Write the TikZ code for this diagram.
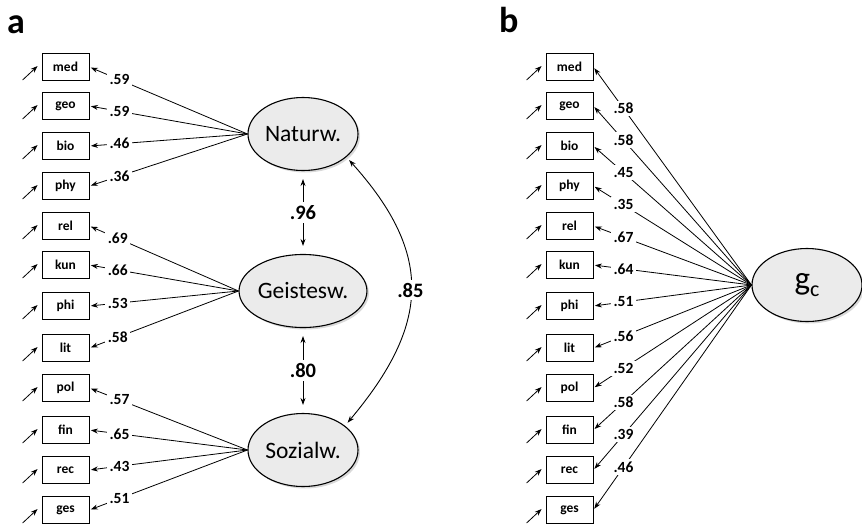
\documentclass[tikz,border=0pt]{standalone}
\usepackage{fontspec}
\setmainfont{Carlito}
\usetikzlibrary{arrows.meta,shapes.geometric,shadows}

\tikzset{
  manif/.style={draw, line width=0.8pt, minimum width=47pt, minimum height=27pt, inner sep=0pt,
    font=\fontsize{13.5}{15}\selectfont\bfseries},
  latent/.style={ellipse, draw, line width=1.1pt, fill=black!8, minimum width=110pt,
    minimum height=73pt, inner sep=0pt, font=\fontsize{23.5}{25}\selectfont,
    drop shadow={shadow xshift=2pt, shadow yshift=-2pt, opacity=0.3}},
  tip/.style={-{Stealth[length=7pt,width=5pt]}},
  load/.style={tip, line width=0.8pt, shorten >=1.5pt},
  err/.style={tip, line width=0.8pt},
  corr/.style={{Stealth[length=7pt,width=5pt]}-{Stealth[length=7pt,width=5pt]}, line width=0.9pt},
  lbl/.style={fill=white, inner sep=2.5pt, font=\fontsize{15.5}{17}\selectfont\bfseries},
  biglbl/.style={fill=white, inner sep=3pt, font=\fontsize{20.5}{22}\selectfont\bfseries},
  panel/.style={anchor=base west, inner sep=0pt, font=\fontsize{36}{38}\selectfont\bfseries}
}
\newcommand{\errarrow}[1]{\draw[err] ([shift={(-19,13)}]#1.west) -- ([shift={(-4,-1)}]#1.west);}

\begin{document}
\begin{tikzpicture}[x=1pt, y=-1pt]
    \useasboundingbox (0,0) rectangle (862,525);

    % panel a
    \node[panel] (tita) at (7,33) {a};
    \node[manif] (a-med) at (65.5,67) {med};
    \node[manif] (a-geo) at (65.5,106) {geo};
    \node[manif] (a-bio) at (65.5,146) {bio};
    \node[manif] (a-phy) at (65.5,186) {phy};
    \node[manif] (a-rel) at (65.5,226) {rel};
    \node[manif] (a-kun) at (65.5,265) {kun};
    \node[manif] (a-phi) at (65.5,306) {phi};
    \node[manif] (a-lit) at (65.5,348) {lit};
    \node[manif] (a-pol) at (65.5,388) {pol};
    \node[manif] (a-fin) at (65.5,430) {fin};
    \node[manif] (a-rec) at (65.5,470) {rec};
    \node[manif] (a-ges) at (65.5,510) {ges};

    \node[latent] (natw) at (303,134) {Naturw.};
    \node[latent] (geistw) at (303,291) {Geistesw.};
    \node[latent] (sozw) at (303,450) {Sozialw.};

    \errarrow{a-med} \errarrow{a-geo} \errarrow{a-bio} \errarrow{a-phy}
    \errarrow{a-rel} \errarrow{a-kun} \errarrow{a-phi} \errarrow{a-lit}
    \errarrow{a-pol} \errarrow{a-fin} \errarrow{a-rec} \errarrow{a-ges}

    \draw[load] (natw.west) -- node[lbl, pos=0.81] {.59} (a-med.east);
    \draw[load] (natw.west) -- node[lbl, pos=0.81] {.59} (a-geo.east);
    \draw[load] (natw.west) -- node[lbl, pos=0.81] {.46} (a-bio.east);
    \draw[load] (natw.west) -- node[lbl, pos=0.81] {.36} (a-phy.east);
    \draw[load] (geistw.west) -- node[lbl, pos=0.81] {.69} (a-rel.east);
    \draw[load] (geistw.west) -- node[lbl, pos=0.81] {.66} (a-kun.east);
    \draw[load] (geistw.west) -- node[lbl, pos=0.81] {.53} (a-phi.east);
    \draw[load] (geistw.west) -- node[lbl, pos=0.81] {.58} (a-lit.east);
    \draw[load] (sozw.west) -- node[lbl, pos=0.81] {.57} (a-pol.east);
    \draw[load] (sozw.west) -- node[lbl, pos=0.81] {.65} (a-fin.east);
    \draw[load] (sozw.west) -- node[lbl, pos=0.81] {.43} (a-rec.east);
    \draw[load] (sozw.west) -- node[lbl, pos=0.81] {.51} (a-ges.east);

    \draw[corr, shorten <=8pt, shorten >=8pt] (natw.south) -- node[biglbl] {.96} (geistw.north);
    \draw[corr, shorten <=8pt, shorten >=8pt] (geistw.south) -- node[biglbl] {.80} (sozw.north);
    \draw[corr, shorten <=4pt, shorten >=4pt] (natw.-28) to[out=-48, in=50, looseness=1.25] node[biglbl] {.85} (sozw.30);

    % panel b
    \node[panel] (titb) at (499,32) {b};
    \node[manif] (b-med) at (569.5,67) {med};
    \node[manif] (b-geo) at (569.5,106) {geo};
    \node[manif] (b-bio) at (569.5,146) {bio};
    \node[manif] (b-phy) at (569.5,186) {phy};
    \node[manif] (b-rel) at (569.5,226) {rel};
    \node[manif] (b-kun) at (569.5,265) {kun};
    \node[manif] (b-phi) at (569.5,306) {phi};
    \node[manif] (b-lit) at (569.5,348) {lit};
    \node[manif] (b-pol) at (569.5,388) {pol};
    \node[manif] (b-fin) at (569.5,430) {fin};
    \node[manif] (b-rec) at (569.5,470) {rec};
    \node[manif] (b-ges) at (569.5,510) {ges};

    \node[latent, font=\fontsize{33}{33}\selectfont] (gc) at (807,285)
        {g\raisebox{-7pt}{\fontsize{22}{22}\selectfont c}};

    \errarrow{b-med} \errarrow{b-geo} \errarrow{b-bio} \errarrow{b-phy}
    \errarrow{b-rel} \errarrow{b-kun} \errarrow{b-phi} \errarrow{b-lit}
    \errarrow{b-pol} \errarrow{b-fin} \errarrow{b-rec} \errarrow{b-ges}

    \draw[load] (gc.west) -- node[lbl, pos=0.81] {.58} (b-med.east);
    \draw[load] (gc.west) -- node[lbl, pos=0.81] {.58} (b-geo.east);
    \draw[load] (gc.west) -- node[lbl, pos=0.81] {.45} (b-bio.east);
    \draw[load] (gc.west) -- node[lbl, pos=0.81] {.35} (b-phy.east);
    \draw[load] (gc.west) -- node[lbl, pos=0.81] {.67} (b-rel.east);
    \draw[load] (gc.west) -- node[lbl, pos=0.81] {.64} (b-kun.east);
    \draw[load] (gc.west) -- node[lbl, pos=0.81] {.51} (b-phi.east);
    \draw[load] (gc.west) -- node[lbl, pos=0.81] {.56} (b-lit.east);
    \draw[load] (gc.west) -- node[lbl, pos=0.81] {.52} (b-pol.east);
    \draw[load] (gc.west) -- node[lbl, pos=0.81] {.58} (b-fin.east);
    \draw[load] (gc.west) -- node[lbl, pos=0.81] {.39} (b-rec.east);
    \draw[load] (gc.west) -- node[lbl, pos=0.81] {.46} (b-ges.east);
\end{tikzpicture}
\end{document}
